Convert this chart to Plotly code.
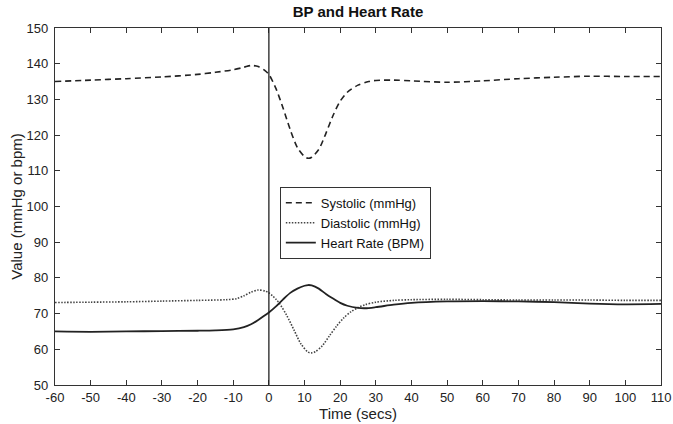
import plotly.graph_objects as go

# Systolic (mmHg)
sys_t = [-60, -50, -40, -30, -20, -15, -10, -7, -5, -3, -1, 0, 2, 4, 6, 8, 10, 11, 12, 14, 16, 18, 20, 22, 25, 28, 30, 35, 40, 50, 60, 70, 80, 90, 100, 110]
sys_v = [135.0, 135.4, 135.8, 136.3, 137.0, 137.6, 138.3, 139.0, 139.5, 139.2, 138.0, 137.0, 133.0, 127.5, 121.5, 116.5, 114.0, 113.5, 113.8, 116.0, 120.5, 125.5, 129.5, 132.0, 134.0, 135.0, 135.3, 135.4, 135.2, 134.8, 135.2, 135.8, 136.2, 136.5, 136.4, 136.4]

# Diastolic (mmHg)
dia_t = [-60, -50, -40, -30, -20, -12, -9, -7, -5, -3, -1, 0, 1, 2, 3, 5, 7, 9, 11, 12, 13, 15, 17, 19, 21, 23, 25, 27, 30, 35, 40, 50, 60, 70, 80, 90, 100, 110]
dia_v = [73.1, 73.2, 73.3, 73.5, 73.7, 73.9, 74.2, 75.0, 76.0, 76.6, 76.3, 75.8, 75.0, 74.0, 72.8, 69.5, 65.5, 61.5, 59.2, 59.0, 59.3, 61.0, 63.8, 66.5, 68.8, 70.5, 71.7, 72.5, 73.2, 73.7, 73.9, 74.0, 73.9, 73.8, 73.8, 73.8, 73.7, 73.7]

# Heart Rate (BPM)
hr_t = [-60, -50, -40, -30, -20, -15, -10, -7, -5, -3, -1, 0, 2, 4, 6, 8, 10, 11, 12, 14, 16, 18, 20, 22, 25, 27, 30, 35, 40, 50, 60, 70, 80, 90, 100, 110]
hr_v = [65.0, 64.9, 65.0, 65.1, 65.2, 65.3, 65.6, 66.2, 67.0, 68.2, 69.6, 70.3, 72.0, 74.0, 75.8, 77.0, 77.8, 78.0, 77.9, 77.0, 75.5, 74.2, 73.0, 72.2, 71.6, 71.5, 71.8, 72.5, 73.0, 73.4, 73.5, 73.4, 73.2, 72.8, 72.6, 72.7]

x_ticks = list(range(-60, 111, 10))
y_ticks = list(range(50, 151, 10))
event_time = 0

FONT = "Liberation Sans, Arial, sans-serif"

fig = go.Figure()
fig.add_trace(go.Scatter(x=sys_t, y=sys_v, mode="lines", name="Systolic (mmHg)",
                         line=dict(color="#222", width=1.6, dash="6px,4px", shape="spline", smoothing=0.8)))
fig.add_trace(go.Scatter(x=dia_t, y=dia_v, mode="lines", name="Diastolic (mmHg)",
                         line=dict(color="#444", width=1.6, dash="1.5px,1.5px", shape="spline", smoothing=0.8)))
fig.add_trace(go.Scatter(x=hr_t, y=hr_v, mode="lines", name="Heart Rate (BPM)",
                         line=dict(color="#222", width=1.8, shape="spline", smoothing=0.8)))

fig.add_shape(type="line", xref="x", yref="paper", x0=event_time, x1=event_time, y0=0, y1=1,
              line=dict(color="#222", width=1.3))

axis_common = dict(showline=True, linecolor="#333", linewidth=1.2, mirror="ticks",
                   ticks="inside", ticklen=5, tickwidth=1, tickcolor="#333",
                   showgrid=False, zeroline=False, automargin=False,
                   tickfont=dict(family=FONT, size=13, color="#222"))

fig.update_layout(
    width=673, height=424,
    margin=dict(l=55, r=12, t=28, b=39),
    paper_bgcolor="white", plot_bgcolor="white",
    title=dict(text="<b>BP and Heart Rate</b>", x=(55 + 661) / 2 / 673, xanchor="center",
               y=1 - 12 / 424, yanchor="middle",
               font=dict(family=FONT, size=15, color="#111")),
    xaxis=dict(range=[-60, 110], tickvals=x_ticks, ticktext=[str(v) for v in x_ticks],
               title=dict(text="Time (secs)", font=dict(family=FONT, size=15, color="#222"), standoff=2),
               **axis_common),
    yaxis=dict(range=[50, 150], tickvals=y_ticks, ticktext=[str(v) for v in y_ticks],
               ticklabelstandoff=3,
               title=dict(text="Value (mmHg or bpm)", font=dict(family=FONT, size=15, color="#222"), standoff=0),
               **axis_common),
    legend=dict(x=0.371, y=0.555, xanchor="left", yanchor="top",
                bordercolor="#333", borderwidth=1, bgcolor="white",
                font=dict(family=FONT, size=13, color="#111"),
                itemwidth=30, tracegroupgap=0),
    showlegend=True,
)

fig.write_html("out.html", config={"displayModeBar": False},
               post_script="document.body.style.margin='0px';document.body.style.padding='0px';")
